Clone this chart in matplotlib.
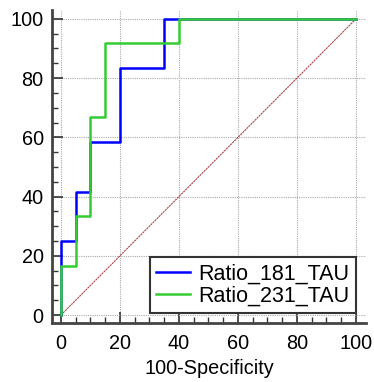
import matplotlib
matplotlib.use("Agg")
import matplotlib.pyplot as plt
from matplotlib.ticker import MultipleLocator

plt.rcParams['font.family'] = ['Liberation Sans', 'DejaVu Sans']

# Data (step ROC curves)
fpr_181 = [0, 0, 5, 5, 10, 10, 20, 20, 35, 35, 100]
tpr_181 = [0, 25, 25, 41.7, 41.7, 58.3, 58.3, 83.3, 83.3, 100, 100]
fpr_231 = [0, 0, 5, 5, 10, 10, 15, 15, 40, 40, 100]
tpr_231 = [0, 16.7, 16.7, 33.3, 33.3, 66.7, 66.7, 91.7, 91.7, 100, 100]
labels = ["Ratio_181_TAU", "Ratio_231_TAU"]
ticks = [0, 20, 40, 60, 80, 100]

fig = plt.figure(figsize=(3.74, 3.82), dpi=100)
W, H = 374, 382
# axes from x=52..366 px, y=10..323 px
ax = fig.add_axes([52 / W, 1 - 323 / H, (366 - 52) / W, (323 - 10) / H])

ax.set_xlim(-3.05, 103.4)
ax.set_ylim(-2.7, 103)

ax.plot([0, 100], [0, 100], color='#9a2a2c', lw=0.8, alpha=0.85,
        linestyle=(0, (2, 0.6)), zorder=2)
ax.plot(fpr_181, tpr_181, color='#0000ff', lw=1.8, label=labels[0], zorder=3)
ax.plot(fpr_231, tpr_231, color='#33cc33', lw=1.8, label=labels[1], zorder=4)

ax.set_xticks(ticks)
ax.set_yticks(ticks)
ax.xaxis.set_minor_locator(MultipleLocator(5))
ax.yaxis.set_minor_locator(MultipleLocator(5))
ax.tick_params(which='major', direction='in', length=8, width=1.2, color='#333333',
               labelsize=14.3, pad=6)
ax.tick_params(axis='x', which='major', pad=8)
ax.tick_params(which='minor', direction='in', length=4, width=1.0, color='#333333')
ax.grid(True, which='major', color='#aaaaaa', linestyle=(0, (1, 1)), lw=0.8)

for s in ['top', 'right']:
    ax.spines[s].set_visible(False)
for s in ['left', 'bottom']:
    ax.spines[s].set_color('#444444')
    ax.spines[s].set_linewidth(2)

ax.set_xlabel('100-Specificity', fontsize=14.3, labelpad=4)

leg = ax.legend(loc='lower right', fontsize=15.5, frameon=True, fancybox=False,
                edgecolor='#333333', framealpha=1, handlelength=1.55,
                borderaxespad=0.45, handletextpad=0.42, labelspacing=0.05,
                borderpad=0.3)
leg.get_frame().set_linewidth(1.5)

fig.savefig('out.png', dpi=100)
